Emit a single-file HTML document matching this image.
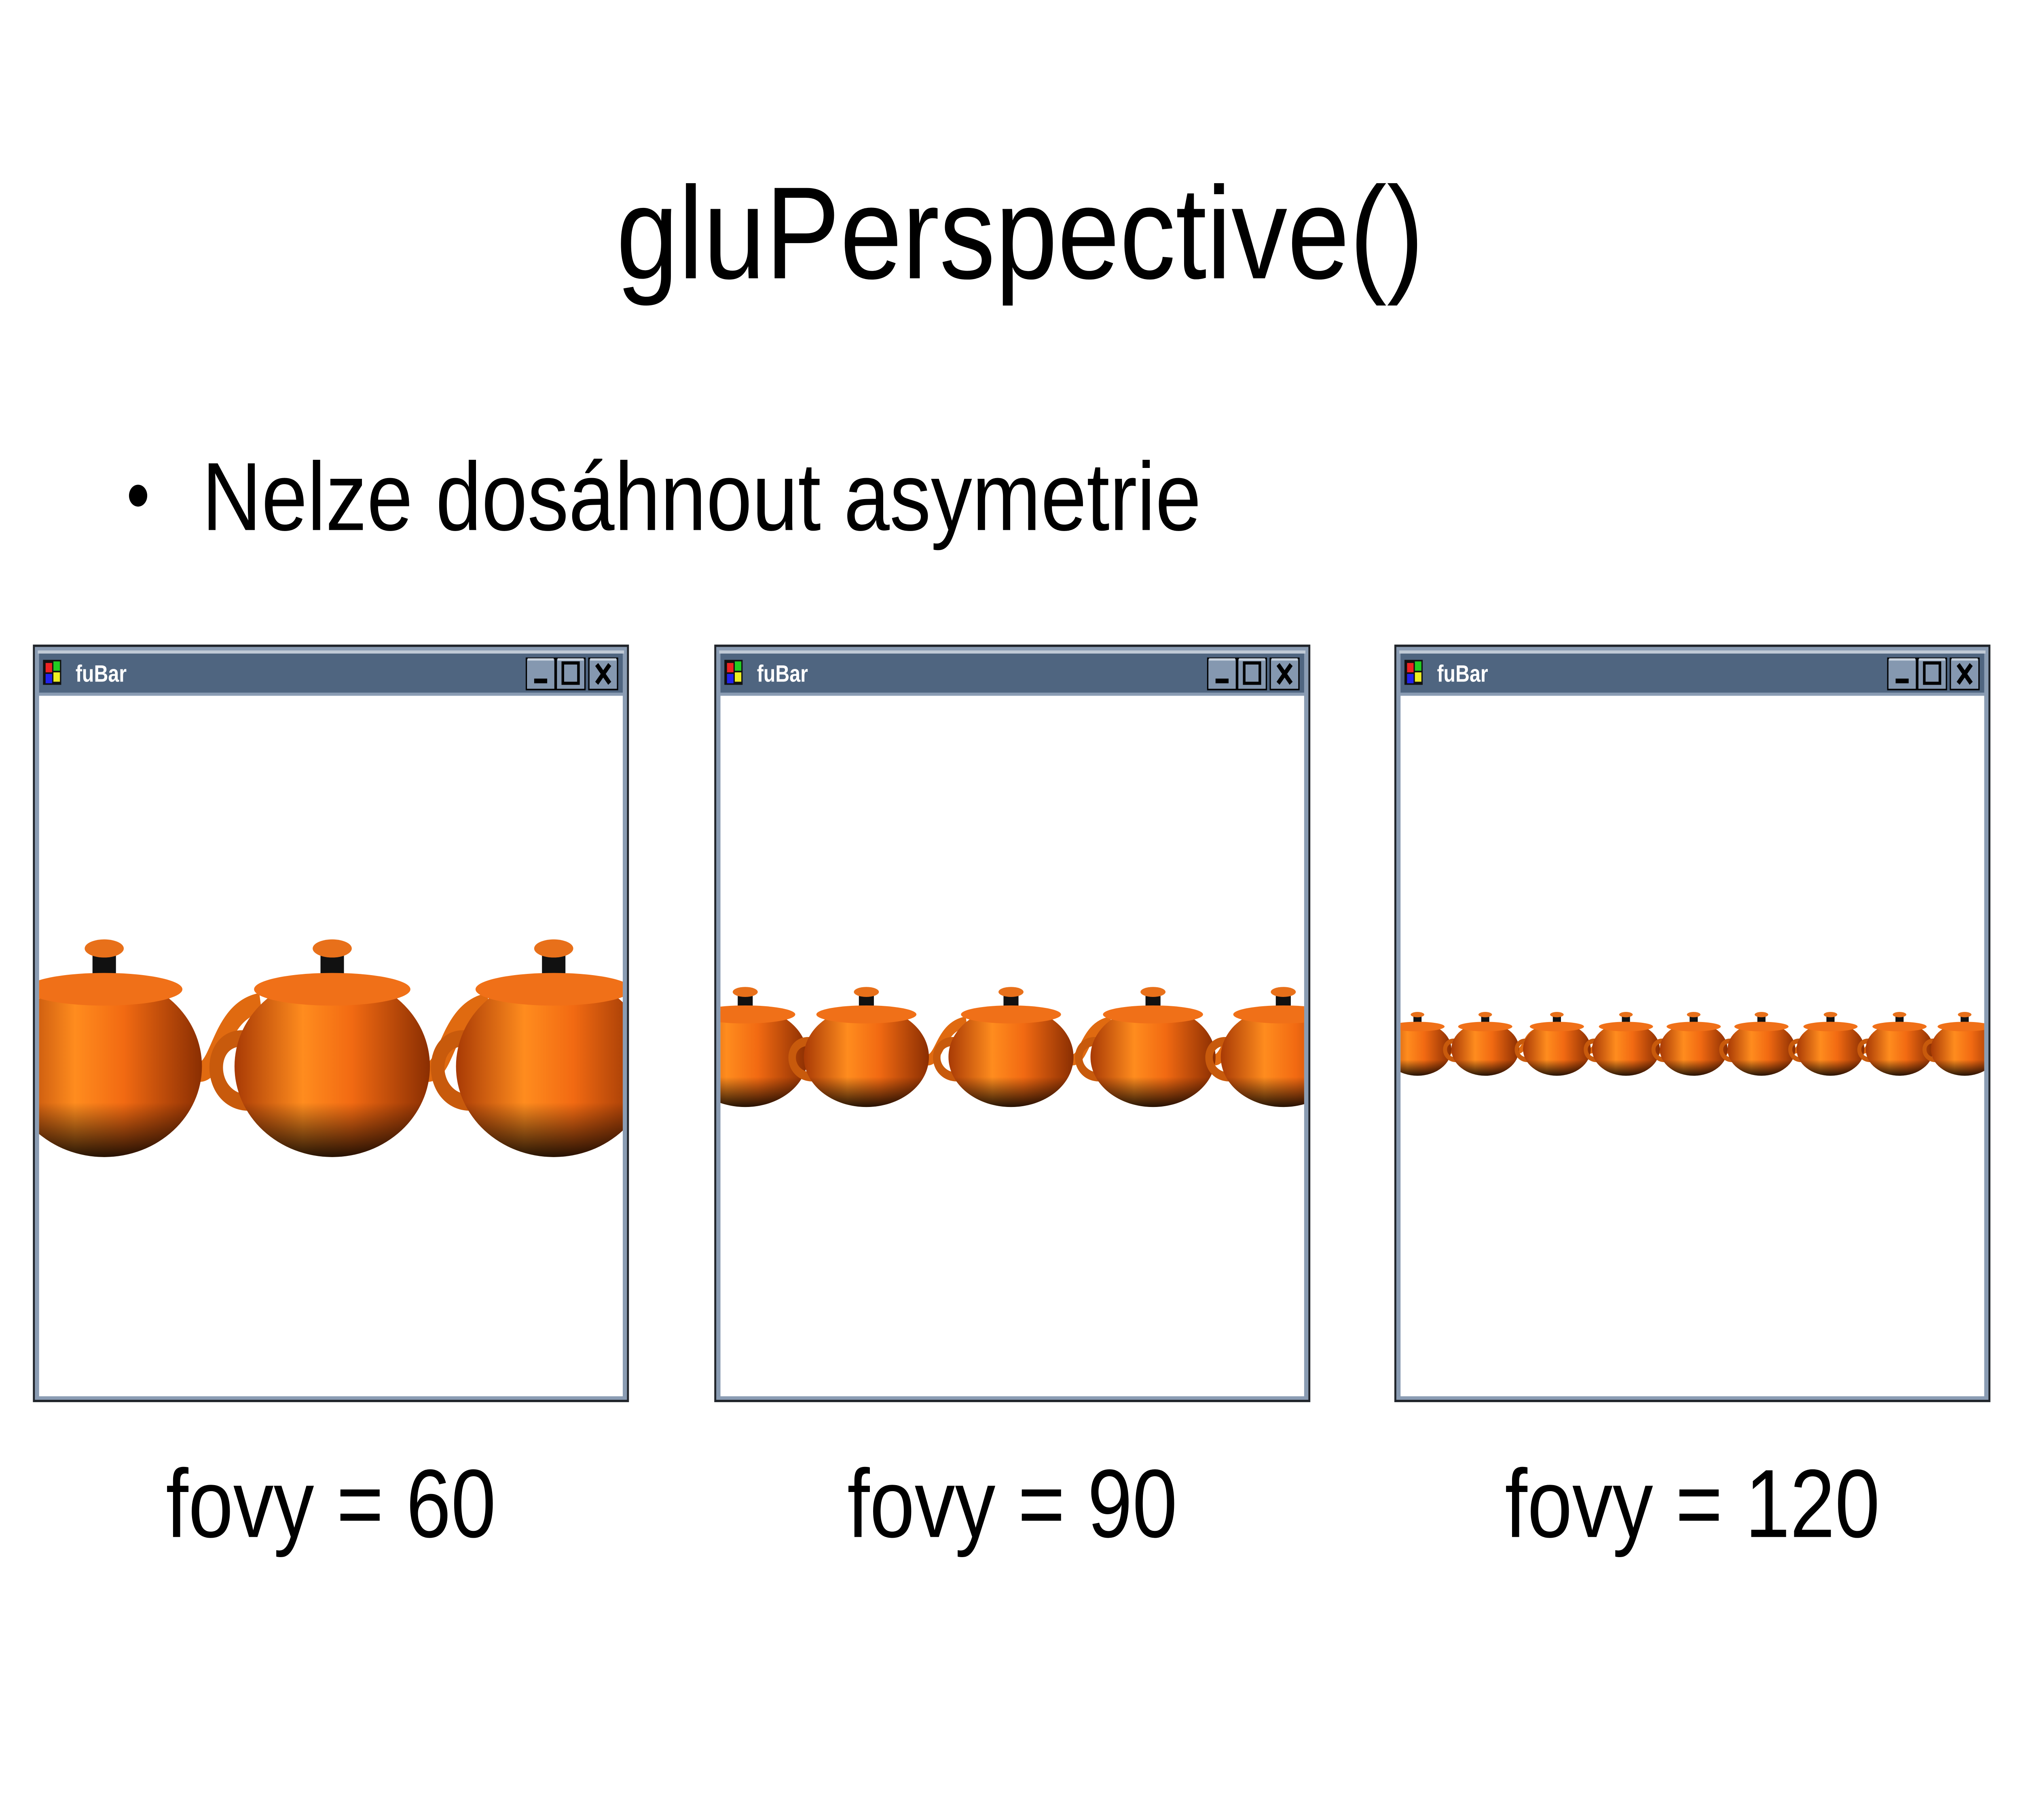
<!DOCTYPE html>
<html><head><meta charset="utf-8"><style>
html,body{margin:0;padding:0;background:#fff;overflow:hidden;width:100vw;height:100vh;}
svg{display:block;width:100vw;height:100vh;}
</style></head><body>
<svg id="s" viewBox="0 0 1552 1164" preserveAspectRatio="none" xmlns="http://www.w3.org/2000/svg">
<defs>
<linearGradient id="og" x1="0" x2="1" y1="0" y2="0">
<stop offset="0" stop-color="#a83a05"/><stop offset="0.35" stop-color="#ff8c1e"/><stop offset="0.6" stop-color="#f26a12"/><stop offset="1" stop-color="#8a2e02"/>
</linearGradient>
<linearGradient id="vg" x1="0" x2="0" y1="0" y2="1">
<stop offset="0" stop-color="#000" stop-opacity="0"/><stop offset="0.7" stop-color="#000" stop-opacity="0"/><stop offset="1" stop-color="#000" stop-opacity="0.85"/>
</linearGradient>
<clipPath id="c0"><rect x="30" y="445" width="448" height="448"/></clipPath>
<clipPath id="c1"><rect x="553" y="445" width="448" height="448"/></clipPath>
<clipPath id="c2"><rect x="1075" y="445" width="448" height="448"/></clipPath>
</defs>
<text x="783" y="178" text-anchor="middle" font-family="Liberation Sans, sans-serif" font-size="84" textLength="620" lengthAdjust="spacingAndGlyphs" fill="#000">gluPerspective()</text>
<circle cx="106" cy="317" r="7" fill="#000"/>
<text x="155" y="339" font-family="Liberation Sans, sans-serif" font-size="62" textLength="767" lengthAdjust="spacingAndGlyphs" fill="#000">Nelze dosáhnout asymetrie</text>
<g id="wins"></g>
</svg>
<script>
const windowX = [26, 549, 1071];
const captions = ["fovy = 60", "fovy = 90", "fovy = 120"];
const pot0 = [80, 255, 425];
const pot1 = [572, 665, 776, 885, 985];
const pot2 = [1088, 1140, 1195, 1248, 1300, 1352, 1405, 1458, 1508];
const potRx = [75, 48, 26];
const potRy = [58, 32, 17];
const potCy = [682, 676, 671];
const NS = "http://www.w3.org/2000/svg";
const g = document.getElementById('wins');
function mk(tag, attrs, parent){const e=document.createElementNS(NS,tag);for(const k in attrs)e.setAttribute(k,attrs[k]);(parent||g).appendChild(e);return e;}
const pots=[pot0,pot1,pot2];
windowX.forEach((x,i)=>{
  const w = mk('g',{});
  
  
  const frame=mk('rect',{x:x,y:413,width:456,height:483,fill:'#8a9cb3',stroke:'#20242a','stroke-width':1.5},w);
  
  
  mk('rect',{x:x+3,y:416,width:450,height:2,fill:'#c0cad6'},w);
  const tb=mk('rect',{x:x+4,y:418,width:448,height:25,fill:'#4f6580'},w);
  
  
  const ic=mk('g',{},w);
  
  
  mk('rect',{x:x+7,y:422,width:14,height:16,fill:'#111'},ic);
  mk('rect',{x:x+9,y:424,width:5,height:6,fill:'#e22'},ic);
  mk('rect',{x:x+15,y:423,width:5,height:6,fill:'#2c2'},ic);
  mk('rect',{x:x+9,y:431,width:5,height:6,fill:'#22e'},ic);
  mk('rect',{x:x+15,y:430,width:5,height:6,fill:'#ee2'},ic);
  const tt=mk('text',{x:x+32,y:436,'font-family':'Liberation Sans, sans-serif','font-size':15,'font-weight':'bold',fill:'#fff'},w);
  tt.textContent='fuBar';
  
  
  const bx=[x+378,x+401,x+426], names=['minimize-button','maximize-button','close-button'];
  bx.forEach((b,j)=>{
    const bt=mk('g',{},w);
    
    
    mk('rect',{x:b,y:421,width:22,height:20,fill:'#8598b0',stroke:'#000','stroke-width':1},bt);
    mk('rect',{x:b+1,y:421,width:20,height:1.5,fill:'#c8d2de'},bt);
    if(j===0) mk('rect',{x:b+6,y:434,width:10,height:3,fill:'#000'},bt);
    if(j===1) mk('rect',{x:b+5,y:424,width:12,height:13,fill:'none',stroke:'#000','stroke-width':2},bt);
    if(j===2) mk('path',{d:`M${b+6} 425 L${b+16} 437 M${b+16} 425 L${b+6} 437`,stroke:'#000','stroke-width':3},bt);
  });
  mk('rect',{x:x+4,y:443,width:448,height:2,fill:'#8a9cb3'},w);
  const cl=mk('rect',{x:x+4,y:445,width:448,height:448,fill:'#fff'},w);
  
  
  const pg=mk('g',{'clip-path':`url(#c${i})`},w);
  
  
  const rx=potRx[i], ry=potRy[i], cy=potCy[i];
  pots[i].forEach(cx=>{
    const t=mk('g',{},pg);
    
    
    mk('path',{d:`M${cx+rx*0.85} ${cy} C${cx+rx*1.2} ${cy+ry*0.3} ${cx+rx*1.1} ${cy-ry*0.6} ${cx+rx*1.6} ${cy-ry*0.7}`,stroke:'#e06a10','stroke-width':ry*0.22,fill:'none'},t);
    mk('path',{d:`M${cx-rx*0.85} ${cy-ry*0.3} C${cx-rx*1.3} ${cy-ry*0.4} ${cx-rx*1.3} ${cy+ry*0.4} ${cx-rx*0.85} ${cy+ry*0.4}`,stroke:'#c85a0c','stroke-width':ry*0.18,fill:'none'},t);
    mk('ellipse',{cx:cx,cy:cy,rx:rx,ry:ry,fill:'url(#og)'},t);
    mk('ellipse',{cx:cx,cy:cy,rx:rx,ry:ry,fill:'url(#vg)'},t);
    mk('rect',{x:cx-rx*0.12,y:cy-ry*1.3,width:rx*0.24,height:ry*0.4,fill:'#111'},t);
    mk('ellipse',{cx:cx,cy:cy-ry*1.3,rx:rx*0.2,ry:ry*0.1,fill:'#e8701a'},t);
    mk('ellipse',{cx:cx,cy:cy-ry*0.85,rx:rx*0.8,ry:ry*0.18,fill:'#f07018'},t);
  });
  const cap=mk('text',{x:x+228,y:983,'text-anchor':'middle','font-family':'Liberation Sans, sans-serif','font-size':62,fill:'#000'});
  cap.textContent=captions[i];
  
  
});
</script>
</body></html>
